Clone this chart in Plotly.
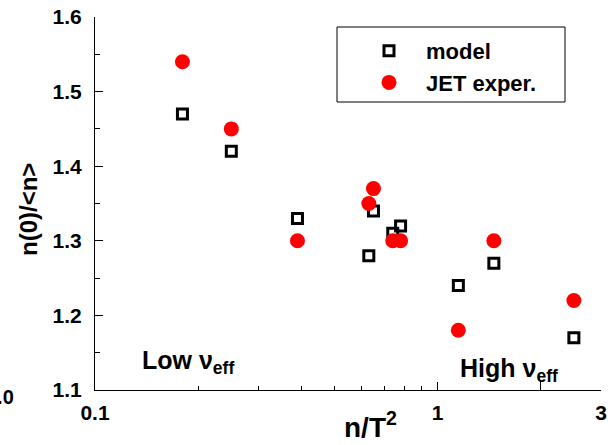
import plotly.graph_objects as go
import numpy as np

# Data
model_x = [0.18, 0.25, 0.39, 0.63, 0.65, 0.74, 0.78, 1.15, 1.46, 2.5]
model_y = [1.47, 1.42, 1.33, 1.28, 1.34, 1.31, 1.32, 1.24, 1.27, 1.17]
jet_x = [0.18, 0.25, 0.39, 0.65, 0.63, 0.74, 0.78, 1.15, 1.46, 2.5]
jet_y = [1.54, 1.45, 1.30, 1.37, 1.35, 1.30, 1.30, 1.18, 1.30, 1.22]

x_tickvals = [0.1, 1, 2, 3]
x_ticktext = ["0.1", "1", "", "3"]
x_minor = [0.2, 0.3, 0.4, 0.5, 0.6, 0.7, 0.8, 0.9]
y_tickvals = [1.1, 1.2, 1.3, 1.4, 1.5, 1.6]

FONT = "Liberation Sans"

# plot area in pixels
L, R, T, B = 95, 601, 17, 390
W, H = 614, 445


def px(xp):
    return (xp - L) / (R - L)


def py(yp):
    return (B - yp) / (B - T)


fig = go.Figure()
fig.add_trace(go.Scatter(
    x=model_x, y=model_y, mode="markers", name="model",
    marker=dict(symbol="square-open", size=10, color="black",
                line=dict(width=3, color="black")),
    cliponaxis=False,
))
fig.add_trace(go.Scatter(
    x=jet_x, y=jet_y, mode="markers", name="JET exper.",
    marker=dict(symbol="circle", size=15, color="#ff0000"),
    cliponaxis=False,
))

axis_font = dict(family=FONT, size=21, color="black", weight="bold")

fig.update_xaxes(
    type="log", range=[np.log10(0.1), np.log10(3)],
    tickvals=x_tickvals, ticktext=x_ticktext,
    ticks="inside", ticklen=8, tickwidth=1, tickcolor="black",
    minor=dict(tickvals=x_minor, ticks="inside", ticklen=4, tickwidth=1, tickcolor="black"),
    showline=True, linecolor="black", linewidth=1,
    showgrid=False, zeroline=False, tickfont=axis_font,
    ticklabelstandoff=4, automargin=False,
)
fig.update_yaxes(
    range=[1.1, 1.6], tickvals=y_tickvals,
    tickformat=".1f",
    ticks="inside", ticklen=8, tickwidth=1, tickcolor="black",
    minor=dict(dtick=0.05, ticks="inside", ticklen=5, tickwidth=1, tickcolor="black"),
    showline=True, linecolor="black", linewidth=1,
    showgrid=False, zeroline=False, tickfont=axis_font,
    ticklabelstandoff=8, automargin=False,
)

annotations = [
    dict(text="n/T<sup>2</sup>", xref="paper", yref="paper", x=px(370), y=py(425),
         xanchor="center", yanchor="middle", showarrow=False,
         font=dict(family=FONT, size=28, color="black", weight="bold")),
    dict(text="n(0)/<n>", xref="paper", yref="paper", x=px(28), y=py(210),
         xanchor="center", yanchor="middle", showarrow=False, textangle=-90,
         font=dict(family=FONT, size=24, color="black", weight="bold")),
    dict(text="Low ν<sub>eff</sub>", xref="paper", yref="paper", x=px(140), y=py(362),
         xanchor="left", yanchor="middle", showarrow=False,
         font=dict(family=FONT, size=25, color="black", weight="bold")),
    dict(text="High ν<sub>eff</sub>", xref="paper", yref="paper", x=px(458), y=py(370),
         xanchor="left", yanchor="middle", showarrow=False,
         font=dict(family=FONT, size=25, color="black", weight="bold")),
    dict(text="1.0", xref="paper", yref="paper", x=px(16), y=py(397),
         xanchor="right", yanchor="middle", showarrow=False,
         font=dict(family=FONT, size=20, color="black", weight="bold")),
]

shapes = [
    dict(type="rect", xref="paper", yref="paper",
         x0=px(337), x1=px(565), y0=py(102), y1=py(27),
         line=dict(color="black", width=1), fillcolor="rgba(0,0,0,0)", layer="below"),
]

fig.update_layout(
    width=W, height=H,
    margin=dict(l=L, r=W - R, t=T, b=H - B, autoexpand=False),
    paper_bgcolor="white", plot_bgcolor="white",
    showlegend=True,
    legend=dict(x=px(352), y=py(30), xanchor="left", yanchor="top",
                bgcolor="rgba(0,0,0,0)", borderwidth=0,
                font=dict(family=FONT, size=22, color="black", weight="bold"),
                itemwidth=64, tracegroupgap=0),
    annotations=annotations,
    shapes=shapes,
)

fig.write_html("out.html")
